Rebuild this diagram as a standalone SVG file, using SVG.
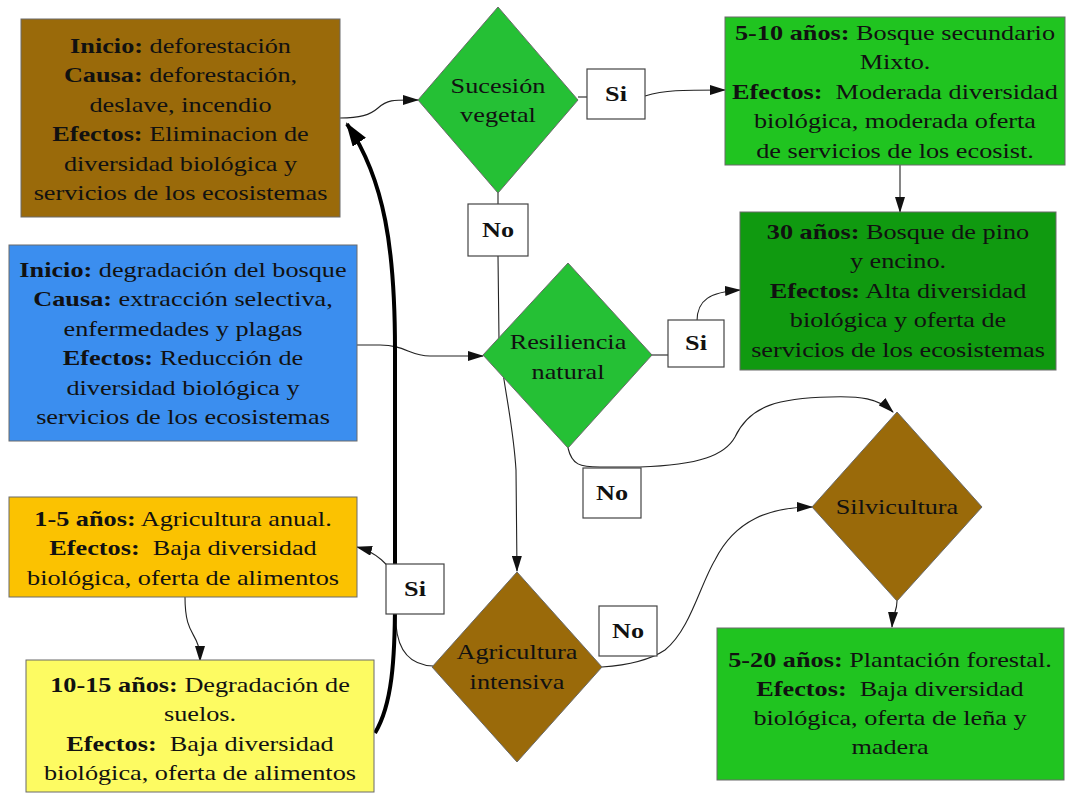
<svg xmlns="http://www.w3.org/2000/svg" width="1068" height="794" viewBox="0 0 1068 794">
<defs>
<style>
.t{font-family:"Liberation Serif","Times New Roman",serif;font-size:21px;fill:#111;text-anchor:middle}
.b{font-weight:bold}
.box{stroke:#6a6a6a;stroke-width:1}
.lbl{fill:#fff;stroke:#444;stroke-width:1.2}
.c{fill:none;stroke:#222;stroke-width:1.1}
.thick{fill:none;stroke:#000;stroke-width:4}
.brown{fill:#9a6a0a}
.blue{fill:#3b8eef}
.green{fill:#20c420}
.dgreen{fill:#109a10}
.dia{fill:#25c035}
.gold{fill:#fbc201}
.yel{fill:#fdfb62}
</style>
<marker id="a" markerUnits="userSpaceOnUse" markerWidth="16" markerHeight="10" refX="15" refY="5" orient="auto"><path d="M0,0 L16,5 L0,10 z" fill="#111"/></marker>
<marker id="ak" markerUnits="userSpaceOnUse" markerWidth="24" markerHeight="16" refX="22" refY="8" orient="auto"><path d="M0,0 L24,8 L0,16 z" fill="#000"/></marker>
</defs>
<rect width="1068" height="794" fill="#fff"/>

<g id="connectors">
<path class="c" d="M498,256 L499,340 C502,380 513,420 516,470 L517,571" marker-end="url(#a)"/>
<path class="c" d="M340,118 C360,118 370,115 378,108 C388,99 395,100 418,100" marker-end="url(#a)"/>
<path class="c" d="M578,97 L588,97"/>
<path class="c" d="M645,96 C665,90 680,90 725,90" marker-end="url(#a)"/>
<path class="c" d="M900,165 L900,212" marker-end="url(#a)"/>
<path class="c" d="M498,193 L498,205"/>
<path class="c" d="M357,345 L380,345 C405,345 410,356 430,356 L483,356" marker-end="url(#a)"/>
<path class="c" d="M652,355 L668,355"/>
<path class="c" d="M697,321 C697,300 710,292 740,290" marker-end="url(#a)"/>
<path class="c" d="M568,448 C572,465 580,467 600,467 L640,467 C700,465 725,455 735,437 C750,405 780,398 830,397 C860,396 878,398 893,412" marker-end="url(#a)"/>
<path class="c" d="M602,667 C630,665 650,660 665,650 C690,630 700,585 715,560 C735,520 770,507 812,507" marker-end="url(#a)"/>
<path class="c" d="M433,666 C410,665 398,650 396,625 L396,580 C390,565 376,552 357,547" marker-end="url(#a)"/>
<path class="c" d="M185,597 C185,640 200,630 200,661" marker-end="url(#a)"/>
<path class="c" d="M897,601 C897,612 893,612 892,627" marker-end="url(#a)"/>
<path class="thick" d="M375,733 C392,705 395,660 395,600 L395,350 C395,250 385,180 347,124" marker-end="url(#ak)"/>
</g>

<g id="n-deforestacion">
<rect class="box brown" x="21" y="19" width="319" height="198"/>
<text class="t" transform="translate(180.5,0) scale(1.25,1)"><tspan x="0" y="53"><tspan class="b">Inicio:</tspan> deforestación</tspan><tspan x="0" y="82.5"><tspan class="b">Causa:</tspan> deforestación,</tspan><tspan x="0" y="112">deslave, incendio</tspan><tspan x="0" y="141.5"><tspan class="b">Efectos:</tspan> Eliminacion de</tspan><tspan x="0" y="171">diversidad biológica y</tspan><tspan x="0" y="200.5">servicios de los ecosistemas</tspan></text>
</g>

<g id="n-degradacion">
<rect class="box blue" x="9" y="245" width="348" height="196"/>
<text class="t" transform="translate(183,0) scale(1.25,1)"><tspan x="0" y="277"><tspan class="b">Inicio:</tspan> degradación del bosque</tspan><tspan x="0" y="306.5"><tspan class="b">Causa:</tspan> extracción selectiva,</tspan><tspan x="0" y="336">enfermedades y plagas</tspan><tspan x="0" y="365.5"><tspan class="b">Efectos:</tspan> Reducción de</tspan><tspan x="0" y="395">diversidad biológica y</tspan><tspan x="0" y="424.5">servicios de los ecosistemas</tspan></text>
</g>

<g id="n-sucesion">
<polygon class="box dia" points="498,7 578,100 498,193 418,100"/>
<text class="t" transform="translate(498,0) scale(1.25,1)"><tspan x="0" y="93">Sucesión</tspan><tspan x="0" y="122">vegetal</tspan></text>
</g>

<g id="n-si1">
<rect class="lbl" x="587" y="69" width="58" height="50"/>
<text class="t b" transform="translate(616,0) scale(1.25,1)" x="0" y="101">Si</text>
</g>

<g id="n-5-10">
<rect class="box green" x="725" y="17" width="340" height="148"/>
<text class="t" transform="translate(895,0) scale(1.25,1)"><tspan x="0" y="40"><tspan class="b">5-10 años:</tspan> Bosque secundario</tspan><tspan x="0" y="69.5">Mixto.</tspan><tspan x="0" y="99"><tspan class="b">Efectos:</tspan>&#160; Moderada diversidad</tspan><tspan x="0" y="128.5">biológica, moderada oferta</tspan><tspan x="0" y="158">de servicios de los ecosist.</tspan></text>
</g>

<g id="n-no1">
<rect class="lbl" x="468" y="204" width="60" height="52"/>
<text class="t b" transform="translate(498,0) scale(1.25,1)" x="0" y="237">No</text>
</g>

<g id="n-30">
<rect class="box dgreen" x="740" y="212" width="316" height="158"/>
<text class="t" transform="translate(898,0) scale(1.25,1)"><tspan x="0" y="239"><tspan class="b">30 años:</tspan> Bosque de pino</tspan><tspan x="0" y="268.5">y encino.</tspan><tspan x="0" y="298"><tspan class="b">Efectos:</tspan> Alta diversidad</tspan><tspan x="0" y="327.5">biológica y oferta de</tspan><tspan x="0" y="357">servicios de los ecosistemas</tspan></text>
</g>

<g id="n-resiliencia">
<polygon class="box dia" points="568,263 652,355 568,448 483,355"/>
<text class="t" transform="translate(568,0) scale(1.25,1)"><tspan x="0" y="349">Resiliencia</tspan><tspan x="0" y="379">natural</tspan></text>
</g>

<g id="n-si2">
<rect class="lbl" x="668" y="320" width="56" height="47"/>
<text class="t b" transform="translate(696,0) scale(1.25,1)" x="0" y="350">Si</text>
</g>

<g id="n-no2">
<rect class="lbl" x="583" y="468" width="58" height="50"/>
<text class="t b" transform="translate(612,0) scale(1.25,1)" x="0" y="500">No</text>
</g>

<g id="n-silvicultura">
<polygon class="box brown" points="897,412 982,507 897,601 812,507"/>
<text class="t" transform="translate(897,0) scale(1.25,1)" x="0" y="514">Silvicultura</text>
</g>

<g id="n-1-5">
<rect class="box gold" x="9" y="497" width="348" height="100"/>
<text class="t" transform="translate(183,0) scale(1.25,1)"><tspan x="0" y="526"><tspan class="b">1-5 años:</tspan> Agricultura anual.</tspan><tspan x="0" y="555.5"><tspan class="b">Efectos:</tspan>&#160; Baja diversidad</tspan><tspan x="0" y="585">biológica, oferta de alimentos</tspan></text>
</g>

<g id="n-si3">
<rect class="lbl" x="386" y="564" width="58" height="50"/>
<text class="t b" transform="translate(415,0) scale(1.25,1)" x="0" y="596">Si</text>
</g>

<g id="n-agricultura">
<polygon class="box brown" points="517,572 602,667 517,762 432,667"/>
<text class="t" transform="translate(517,0) scale(1.25,1)"><tspan x="0" y="659">Agricultura</tspan><tspan x="0" y="689">intensiva</tspan></text>
</g>

<g id="n-no3">
<rect class="lbl" x="599" y="606" width="58" height="50"/>
<text class="t b" transform="translate(628,0) scale(1.25,1)" x="0" y="638">No</text>
</g>

<g id="n-10-15">
<rect class="box yel" x="26" y="660" width="348" height="132"/>
<text class="t" transform="translate(200,0) scale(1.25,1)"><tspan x="0" y="692"><tspan class="b">10-15 años:</tspan> Degradación de</tspan><tspan x="0" y="721.5">suelos.</tspan><tspan x="0" y="751"><tspan class="b">Efectos:</tspan>&#160; Baja diversidad</tspan><tspan x="0" y="780.5">biológica, oferta de alimentos</tspan></text>
</g>

<g id="n-5-20">
<rect class="box green" x="717" y="628" width="347" height="152"/>
<text class="t" transform="translate(890,0) scale(1.25,1)"><tspan x="0" y="667"><tspan class="b">5-20 años:</tspan> Plantación forestal.</tspan><tspan x="0" y="696"><tspan class="b">Efectos:</tspan>&#160; Baja diversidad</tspan><tspan x="0" y="725">biológica, oferta de leña y</tspan><tspan x="0" y="754">madera</tspan></text>
</g>
</svg>
